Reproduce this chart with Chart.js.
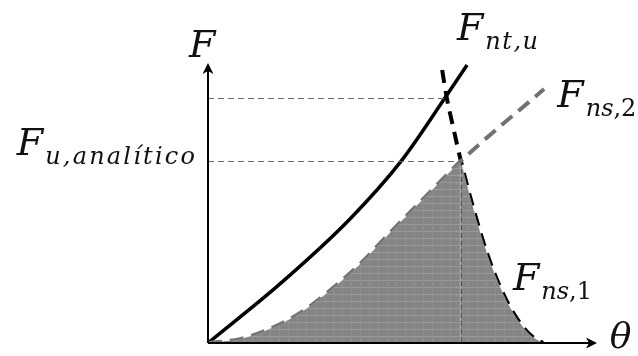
<!DOCTYPE html>
<html>
<head>
<meta charset="utf-8">
<script src="https://cdn.jsdelivr.net/npm/chart.js@4.4.1/dist/chart.umd.min.js"></script>
<style>
    html, body { margin: 0; padding: 0; background: #fff; }
    #wrap { width: 638px; height: 356px; position: relative; }
</style>
</head>
<body>
<div id="wrap"><canvas id="forceChart"></canvas></div>
<script>
// 곡선 데이터 (θ, F)
const ntTheta = [0, 1.85, 3.65, 4.99, 6.09, 6.66];
const ntForce = [0, 2.11, 4.43, 6.54, 8.75, 9.93];

const ns2Theta = [0, 0.82, 1.52, 2.37, 3.21, 3.91, 4.60, 5.53, 6.04, 6.5, 8.64];
const ns2Force = [0, 0.14, 0.46, 1.07, 1.96, 2.82, 3.82, 5.14, 5.86, 6.5, 9.07];

const ns1Theta = [6.02, 6.14, 6.32, 6.5, 6.81, 7.17, 7.51, 7.76, 8.10, 8.35, 8.61];
const ns1Force = [9.75, 8.75, 7.6, 6.5, 4.86, 3.21, 2.0, 1.29, 0.57, 0.21, 0];

// 기준선 값
const peakTheta = 6.5;
const peakForce = 6.5;
const crossTheta = 6.12;
const crossForce = 8.75;

const axisMax = 10;

function toPoints(xs, ys) {
    return xs.map((x, i) => ({ x: x, y: ys[i] }));
}

// 음영 영역: 정점 왼쪽은 F_ns,2, 오른쪽은 F_ns,1
const shadeLeft = toPoints(ns2Theta, ns2Force).filter((p) => p.x <= peakTheta);
const shadeRight = toPoints(ns1Theta, ns1Force).filter((p) => p.x >= peakTheta);

/**
 * 회색 음영 패턴
 */
function makeShadePattern(ctx) {
    const c = document.createElement('canvas');
    c.width = 9;
    c.height = 7;
    const p = c.getContext('2d');
    p.fillStyle = '#858585';
    p.fillRect(0, 0, 9, 7);
    p.fillStyle = '#9a9a9a';
    p.fillRect(0, 0, 9, 1);
    p.fillStyle = '#8f8f8f';
    p.fillRect(0, 0, 1, 7);
    return ctx.createPattern(c, 'repeat');
}

/**
 * 수식 라벨 (기호 + 아래첨자)
 */
function drawMathLabel(ctx, x, y, sub, tail, spacing, align) {
    const bigFont = 'italic 38px "DejaVu Serif"';
    const subFont = 'italic 24px "DejaVu Serif"';
    const tailFont = '24px "DejaVu Serif"';
    const subDrop = 9;
    const gap = 2;

    ctx.letterSpacing = '0px';
    ctx.font = bigFont;
    const wBig = ctx.measureText('F').width;
    ctx.letterSpacing = spacing + 'px';
    ctx.font = subFont;
    const wSub = ctx.measureText(sub).width;
    ctx.font = tailFont;
    const wTail = tail ? ctx.measureText(tail).width : 0;
    const total = wBig + gap + wSub + wTail;

    let left = x;
    if (align === 'right') left = x - total;

    ctx.textAlign = 'left';
    ctx.textBaseline = 'alphabetic';
    ctx.fillStyle = '#111';
    ctx.letterSpacing = '0px';
    ctx.font = bigFont;
    ctx.fillText('F', left, y);
    ctx.letterSpacing = spacing + 'px';
    ctx.font = subFont;
    ctx.fillText(sub, left + wBig + gap, y + subDrop);
    if (tail) {
        ctx.font = tailFont;
        ctx.fillText(tail, left + wBig + gap + wSub, y + subDrop);
    }
    ctx.letterSpacing = '0px';
}

function drawArrowHead(ctx, x, y, dir) {
    ctx.save();
    ctx.translate(x, y);
    ctx.rotate(dir);
    ctx.beginPath();
    ctx.moveTo(0, 0);
    ctx.lineTo(-11, -5.5);
    ctx.lineTo(-8, 0);
    ctx.lineTo(-11, 5.5);
    ctx.closePath();
    ctx.fillStyle = '#000';
    ctx.fill();
    ctx.restore();
}

// 축, 화살표, 기준 점선, 라벨
const diagramPlugin = {
    id: 'diagram',
    afterDatasetsDraw(chart) {
        const ctx = chart.ctx;
        const xs = chart.scales.x;
        const ys = chart.scales.y;
        const x0 = xs.getPixelForValue(0);
        const y0 = ys.getPixelForValue(0);

        ctx.save();

        // 기준 점선
        ctx.strokeStyle = '#6a6a6a';
        ctx.lineWidth = 1;
        ctx.setLineDash([6, 4]);
        ctx.beginPath();
        ctx.moveTo(x0, ys.getPixelForValue(crossForce) + 0.5);
        ctx.lineTo(xs.getPixelForValue(crossTheta), ys.getPixelForValue(crossForce) + 0.5);
        ctx.moveTo(x0, ys.getPixelForValue(peakForce) + 0.5);
        ctx.lineTo(xs.getPixelForValue(peakTheta), ys.getPixelForValue(peakForce) + 0.5);
        ctx.stroke();

        ctx.strokeStyle = '#4a4a4a';
        ctx.setLineDash([5, 3]);
        ctx.beginPath();
        ctx.moveTo(xs.getPixelForValue(peakTheta) + 0.5, ys.getPixelForValue(peakForce));
        ctx.lineTo(xs.getPixelForValue(peakTheta) + 0.5, y0);
        ctx.stroke();
        ctx.setLineDash([]);

        // 축
        ctx.strokeStyle = '#000';
        ctx.lineWidth = 2;
        ctx.beginPath();
        ctx.moveTo(x0, y0);
        ctx.lineTo(xs.getPixelForValue(axisMax) - 6, y0);
        ctx.moveTo(x0, y0);
        ctx.lineTo(x0, ys.getPixelForValue(axisMax) + 6);
        ctx.stroke();
        drawArrowHead(ctx, xs.getPixelForValue(axisMax), y0, 0);
        drawArrowHead(ctx, x0, ys.getPixelForValue(axisMax), -Math.PI / 2);

        // 라벨
        ctx.fillStyle = '#111';
        ctx.textBaseline = 'alphabetic';
        ctx.font = 'italic 38px "DejaVu Serif"';
        ctx.textAlign = 'center';
        ctx.fillText('F', xs.getPixelForValue(-0.15), ys.getPixelForValue(10.21));
        ctx.font = 'italic 36px "DejaVu Serif"';
        ctx.textAlign = 'left';
        ctx.fillText('θ', xs.getPixelForValue(10.33), ys.getPixelForValue(-0.18));

        drawMathLabel(ctx, xs.getPixelForValue(6.40), ys.getPixelForValue(10.82), 'nt,u', '', 1.5, 'left');
        drawMathLabel(ctx, xs.getPixelForValue(8.98), ys.getPixelForValue(8.43), 'ns', ',2', 0, 'left');
        drawMathLabel(ctx, xs.getPixelForValue(7.84), ys.getPixelForValue(1.89), 'ns', ',1', 0, 'left');
        drawMathLabel(ctx, xs.getPixelForValue(-0.28), ys.getPixelForValue(6.71), 'u,analítico', '', 2.2, 'right');

        ctx.restore();
    },
};

function initChart() {
    const canvas = document.getElementById('forceChart');
    const ctx = canvas.getContext('2d');
    const shade = makeShadePattern(ctx);

    const shadeStyle = {
        showLine: true,
        fill: 'origin',
        backgroundColor: shade,
        borderWidth: 0,
        borderColor: 'rgba(0,0,0,0)',
        pointRadius: 0,
        cubicInterpolationMode: 'monotone',
    };

    new Chart(canvas, {
        type: 'scatter',
        data: {
            datasets: [
                Object.assign({ label: 'shade-left', data: shadeLeft }, shadeStyle),
                Object.assign({ label: 'shade-right', data: shadeRight }, shadeStyle),
                {
                    label: 'F_ns,2',
                    data: toPoints(ns2Theta, ns2Force),
                    showLine: true,
                    borderColor: '#727272',
                    borderWidth: 4,
                    borderDash: [14, 8],
                    pointRadius: 0,
                    cubicInterpolationMode: 'monotone',
                },
                {
                    label: 'F_ns,1',
                    data: toPoints(ns1Theta, ns1Force),
                    showLine: true,
                    borderColor: '#000',
                    borderWidth: 4,
                    borderDash: [13, 8],
                    pointRadius: 0,
                    cubicInterpolationMode: 'monotone',
                },
                {
                    label: 'F_nt,u',
                    data: toPoints(ntTheta, ntForce),
                    showLine: true,
                    borderColor: '#000',
                    borderWidth: 3.5,
                    pointRadius: 0,
                    cubicInterpolationMode: 'monotone',
                },
            ],
        },
        options: {
            responsive: true,
            maintainAspectRatio: false,
            animation: false,
            layout: {
                padding: { left: 208, right: 41, top: 63, bottom: 13 },
            },
            plugins: {
                legend: { display: false },
                tooltip: { enabled: false },
            },
            scales: {
                x: { type: 'linear', min: 0, max: axisMax, display: false },
                y: { type: 'linear', min: 0, max: axisMax, display: false },
            },
        },
        plugins: [diagramPlugin],
    });
}

document.addEventListener('DOMContentLoaded', initChart);
</script>
</body>
</html>
